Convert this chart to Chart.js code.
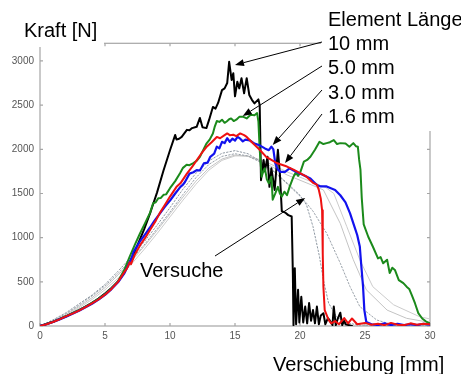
<!DOCTYPE html>
<html>
<head>
<meta charset="utf-8">
<script src="https://cdn.jsdelivr.net/npm/chart.js@4"></script>
<style>
  html, body { margin: 0; padding: 0; background: #fff; }
  #chart { display: block; }
</style>
</head>
<body>
<canvas id="chart" width="461" height="374"></canvas>
<script>
// ========================== Achsen
const xTicks = [0, 5, 10, 15, 20, 25, 30];
const yTicks = [0, 500, 1000, 1500, 2000, 2500, 3000];

// ========================== Simulation, Kraft [N] über Verschiebung [mm]
const el10mm = [[0,0],[0.5,22],[1,48],[1.5,78],[2,110],[2.5,145],[3,180],[3.5,220],[4,262],[4.5,310],[5,368],[5.5,430],[6,505],[6.5,610],[7,750],[7.5,915],[8,1090],[8.5,1290],[9,1510],[9.5,1760],[10,1990],[10.4,2163],[10.5,2110],[10.7,2120],[10.9,2140],[11.1,2180],[11.3,2220],[11.5,2215],[11.7,2240],[12.05,2255],[12.3,2355],[12.5,2250],[12.8,2240],[13.0,2330],[13.3,2480],[13.5,2460],[13.7,2525],[14.0,2670],[14.2,2690],[14.4,2750],[14.55,2990],[14.74,2785],[14.87,2860],[15.0,2600],[15.18,2765],[15.33,2690],[15.5,2805],[15.7,2635],[15.9,2805],[16.1,2615],[16.3,2560],[16.5,2520],[16.8,2565],[16.9,2500],[17.0,1650],[17.2,1880],[17.3,1750],[17.5,1915],[17.65,1575],[17.8,1785],[18.05,1540],[18.3,1995],[18.45,1730],[18.6,1300],[18.9,1280],[19.1,1255],[19.36,1240],[19.45,600],[19.5,10],[19.6,655],[19.7,20],[19.85,410],[19.95,40],[20.1,330],[20.25,40],[20.4,220],[20.55,30],[20.7,260],[20.85,60],[21.0,180],[21.15,30],[21.3,220],[21.45,20],[21.6,120],[21.8,145],[21.95,20],[22.15,90],[22.3,60],[22.5,10],[22.6,220],[22.75,10],[22.9,80],[23.1,150],[23.25,10],[23.4,60],[23.5,20],[24,0]];

const el5mm = [[0,0],[0.5,22],[1,48],[1.5,78],[2,110],[2.5,145],[3,180],[3.5,220],[4,262],[4.5,308],[5,362],[5.5,428],[6,505],[6.5,640],[6.9,785],[7.3,920],[7.7,1050],[8.1,1170],[8.46,1280],[8.7,1390],[8.9,1400],[9.1,1447],[9.3,1450],[9.5,1485],[9.7,1490],[10.0,1560],[10.4,1640],[10.77,1730],[11.0,1790],[11.28,1825],[11.5,1820],[11.8,1845],[12.05,1870],[12.3,1915],[12.55,1990],[12.8,2065],[13.05,2110],[13.3,2180],[13.45,2260],[13.6,2320],[13.8,2310],[14.0,2335],[14.2,2300],[14.36,2315],[14.55,2340],[14.7,2350],[14.9,2320],[15.1,2335],[15.35,2370],[15.6,2370],[15.9,2350],[16.2,2390],[16.5,2385],[16.7,2410],[16.8,2315],[16.9,1995],[17.05,1690],[17.2,1760],[17.3,1785],[17.45,1660],[17.6,1615],[17.8,1690],[17.9,1430],[18.1,1500],[18.3,1575],[18.45,1500],[18.6,1465],[18.8,1520],[19.0,1480],[19.2,1575],[19.5,1690],[19.7,1745],[19.85,1700],[20.0,1730],[20.3,1860],[20.55,1880],[20.8,1915],[21.15,1995],[21.5,2085],[21.8,2060],[22.05,2070],[22.3,2080],[22.6,2105],[22.85,2060],[23.1,2070],[23.5,2065],[23.8,2030],[24.1,2070],[24.3,2035],[24.45,2030],[24.55,1880],[24.65,1770],[24.75,1450],[24.9,1150],[25.25,1010],[25.6,900],[26.0,765],[26.2,780],[26.4,710],[26.7,750],[26.9,600],[27.1,660],[27.3,635],[27.6,520],[27.95,485],[28.2,445],[28.4,420],[28.6,350],[28.85,255],[29.1,145],[29.4,85],[29.7,50],[30,30]];

const el3mm = [[0,0],[0.5,20],[1,45],[1.5,75],[2,105],[2.5,138],[3,172],[3.5,212],[4,252],[4.5,298],[5,352],[5.5,418],[6,495],[6.5,600],[7.05,770],[7.2,840],[7.7,960],[8.1,1040],[8.46,1115],[8.8,1190],[9.2,1270],[9.6,1350],[10.0,1420],[10.4,1500],[10.8,1575],[11.0,1600],[11.15,1630],[11.5,1725],[11.8,1740],[12.05,1765],[12.3,1760],[12.6,1840],[12.9,1850],[13.1,1915],[13.4,1950],[13.6,2030],[13.8,2010],[14.0,2085],[14.2,2070],[14.4,2125],[14.6,2085],[14.8,2120],[15.0,2100],[15.2,2140],[15.4,2120],[15.6,2090],[15.8,2110],[16.15,2100],[16.5,2065],[16.9,2045],[17.3,2010],[17.6,1990],[17.8,2030],[17.95,2000],[18.1,1840],[18.3,1770],[18.5,1745],[18.85,1745],[19.2,1785],[19.5,1760],[19.7,1745],[20.25,1710],[20.8,1670],[21.3,1595],[21.6,1580],[22.05,1580],[22.7,1540],[23.1,1480],[23.5,1400],[23.85,1275],[24.2,1120],[24.4,1030],[24.6,900],[24.7,710],[24.85,445],[24.95,180],[25.1,45],[25.5,20],[26,10],[26.5,30],[27,10],[27.5,25],[28,10],[28.5,20],[29,10],[29.5,25],[30,15]];

const el16mm = [[0,0],[0.5,20],[1,45],[1.5,75],[2,108],[2.5,140],[3,175],[3.5,215],[4,255],[4.5,300],[5,355],[5.5,420],[6,500],[6.4,590],[6.7,655],[6.9,720],[7.0,700],[7.3,810],[7.7,915],[8.1,1000],[8.5,1095],[8.9,1190],[9.2,1275],[9.6,1370],[10.0,1465],[10.5,1575],[10.8,1615],[11.3,1725],[11.7,1800],[12.05,1875],[12.4,1950],[12.8,2025],[13.2,2080],[13.6,2140],[13.85,2125],[14.2,2160],[14.4,2180],[14.6,2160],[14.87,2165],[15.1,2150],[15.4,2180],[15.7,2160],[15.9,2140],[16.4,2065],[16.9,1995],[17.4,1915],[17.8,1880],[18.2,1845],[18.6,1825],[19.0,1805],[19.5,1770],[20.0,1730],[20.5,1690],[21.0,1620],[21.3,1600],[21.45,1540],[21.6,1440],[21.7,1310],[21.75,820],[21.8,445],[21.9,180],[22.2,70],[22.4,30],[22.7,55],[23.0,20],[23.4,90],[23.7,30],[24.0,85],[24.4,20],[25.0,35],[25.5,15],[26.0,25],[26.5,10],[27.0,35],[27.5,15],[28.0,10],[28.5,30],[29.0,15],[29.5,25],[30,20]];

// ========================== Versuche
const test1 = [[0,0],[1,70],[2,150],[3,250],[4,350],[5,470],[6,620],[7,780],[8,950],[9,1140],[10,1340],[11,1550],[12,1730],[13,1870],[14,1955],[15,1985],[16,1950],[17,1860],[18,1750],[19,1620],[20,1480],[20.5,1370],[21,1125],[21.5,785],[21.8,520],[22.2,260],[22.8,106],[23.5,40],[24.5,10],[30,0]];
const test2 = [[0,0],[1,60],[2,140],[3,235],[4,340],[5,455],[6,595],[7,750],[8,915],[9,1100],[10,1290],[11,1490],[12,1680],[13,1830],[14,1920],[15,1950],[16,1925],[17,1850],[18,1745],[19,1610],[20,1470],[20.5,1390],[21,1300],[22.05,1050],[23.1,710],[23.85,445],[24.6,220],[25.9,68],[27,20],[30,0]];
const test3 = [[0,0],[1,55],[2,130],[3,220],[4,320],[5,435],[6,575],[7,730],[8,900],[9,1080],[10,1270],[11,1460],[12,1640],[13,1790],[14,1890],[15,1935],[16,1920],[17,1865],[18,1790],[19,1710],[20,1650],[21,1590],[21.8,1540],[23.1,1160],[24.1,750],[25.1,410],[26.7,180],[28.2,87],[30,40]];
const test4 = [[0,0],[1,50],[2,120],[3,205],[4,300],[5,410],[6,540],[7,695],[8,865],[9,1045],[10,1235],[11,1425],[12,1605],[13,1765],[14,1875],[15,1925],[16,1925],[17,1880],[18,1815],[19,1745],[20,1685],[21,1625],[22,1565],[22.6,1500],[23.6,1125],[24.6,750],[25.6,445],[27.2,240],[29.2,105],[30,80]];

// ========================== Beschriftung
const legendTitle = 'Element Länge';
const lengthLabels = ['10 mm', '5.0 mm', '3.0 mm', '1.6 mm'];
// Pfeilspitzen in Datenkoordinaten (mm, N)
const arrowTips = [[15.0, 2955], [15.6, 2377], [17.9, 2049], [18.85, 1845]];
const testArrowTip = [20.4, 1449];

const FONT = '"Liberation Sans", Arial, sans-serif';

function line(data, color, width, dash) {
    return {
        data: data.map(([x, y]) => ({ x, y })),
        showLine: true,
        borderColor: color,
        borderWidth: width,
        borderDash: dash || [],
        pointRadius: 0,
        fill: false
    };
}

function arrow(ctx, x0, y0, x1, y1) {
    const a = Math.atan2(y1 - y0, x1 - x0);
    const len = 9, half = 3.5;
    const c = Math.cos(a), s = Math.sin(a);
    ctx.beginPath();
    ctx.moveTo(x0, y0);
    ctx.lineTo(x1 - len * c, y1 - len * s);
    ctx.stroke();
    ctx.beginPath();
    ctx.moveTo(x1, y1);
    ctx.lineTo(x1 - len * c + half * s, y1 - len * s - half * c);
    ctx.lineTo(x1 - len * c - half * s, y1 - len * s + half * c);
    ctx.closePath();
    ctx.fill();
}

const decor = {
    id: 'decor',
    beforeDatasetsDraw(chart) {
        const { ctx, chartArea: a, scales: { x, y } } = chart;
        ctx.save();
        ctx.strokeStyle = '#a6a6a6';
        ctx.lineWidth = 1.2;
        ctx.strokeRect(a.left, a.top, a.right - a.left, a.bottom - a.top);
        // Teilstriche nach innen
        ctx.beginPath();
        xTicks.forEach(v => {
            const px = x.getPixelForValue(v);
            ctx.moveTo(px, a.bottom); ctx.lineTo(px, a.bottom - 3);
            ctx.moveTo(px, a.top); ctx.lineTo(px, a.top + 3);
        });
        yTicks.forEach(v => {
            const py = y.getPixelForValue(v);
            ctx.moveTo(a.left, py); ctx.lineTo(a.left + 3, py);
            ctx.moveTo(a.right, py); ctx.lineTo(a.right - 3, py);
        });
        ctx.stroke();
        ctx.restore();
    },
    afterDatasetsDraw(chart) {
        const { ctx, scales: { x, y } } = chart;
        ctx.save();
        // weiße Felder hinter den Texten
        ctx.fillStyle = '#fff';
        ctx.fillRect(0, 0, 104, 47);
        ctx.fillRect(321, 0, 140, 131);

        ctx.fillStyle = '#000';
        ctx.font = '20px ' + FONT;
        ctx.textBaseline = 'alphabetic';
        ctx.textAlign = 'left';
        ctx.fillText('Kraft [N]', 24, 37);
        ctx.fillText(legendTitle, 328, 26);
        lengthLabels.forEach((t, i) => ctx.fillText(t, 328, 50 + i * 24.3));
        ctx.fillText('Versuche', 140, 277);
        ctx.fillText('Verschiebung [mm]', 273, 371);

        ctx.strokeStyle = '#000';
        ctx.lineWidth = 1;
        arrowTips.forEach(([vx, vy], i) => {
            arrow(ctx, 322, 42 + i * 24, x.getPixelForValue(vx), y.getPixelForValue(vy));
        });
        arrow(ctx, 215, 256, x.getPixelForValue(testArrowTip[0]), y.getPixelForValue(testArrowTip[1]));
        ctx.restore();
    }
};

const tickFont = { family: FONT, size: 10 };

new Chart(document.getElementById('chart'), {
    type: 'scatter',
    data: {
        datasets: [
            line(el16mm, '#ee1111', 2),
            line(el3mm, '#1212ee', 2.2),
            line(el5mm, '#1b8a1b', 2),
            line(el10mm, '#000000', 2),
            line(test1, '#8f99a3', 1, [1.5, 2]),
            line(test2, '#9aa2aa', 1, [1.5, 2]),
            line(test3, '#c4c4c4', 1),
            line(test4, '#cccccc', 1)
        ]
    },
    options: {
        responsive: false,
        animation: false,
        layout: { padding: { top: 43.3, right: 31, left: 0, bottom: 0 } },
        plugins: {
            legend: { display: false },
            tooltip: { enabled: false }
        },
        elements: {
            line: { tension: 0, borderJoinStyle: 'round', borderCapStyle: 'round' }
        },
        scales: {
            x: {
                type: 'linear',
                min: 0,
                max: 30,
                grid: { display: false, drawTicks: false },
                border: { display: false },
                afterBuildTicks: s => { s.ticks = xTicks.map(v => ({ value: v })); },
                afterFit: s => { s.height = 48; },
                ticks: { padding: 4, color: '#555', font: tickFont, maxRotation: 0, callback: v => String(v) }
            },
            y: {
                type: 'linear',
                min: 0,
                max: 3200,
                grid: { display: false, drawTicks: false },
                border: { display: false },
                afterBuildTicks: s => { s.ticks = yTicks.map(v => ({ value: v })); },
                afterFit: s => { s.width = 40; },
                ticks: { padding: 6, color: '#555', font: tickFont, callback: v => String(v) }
            }
        }
    },
    plugins: [decor]
});
</script>
</body>
</html>
